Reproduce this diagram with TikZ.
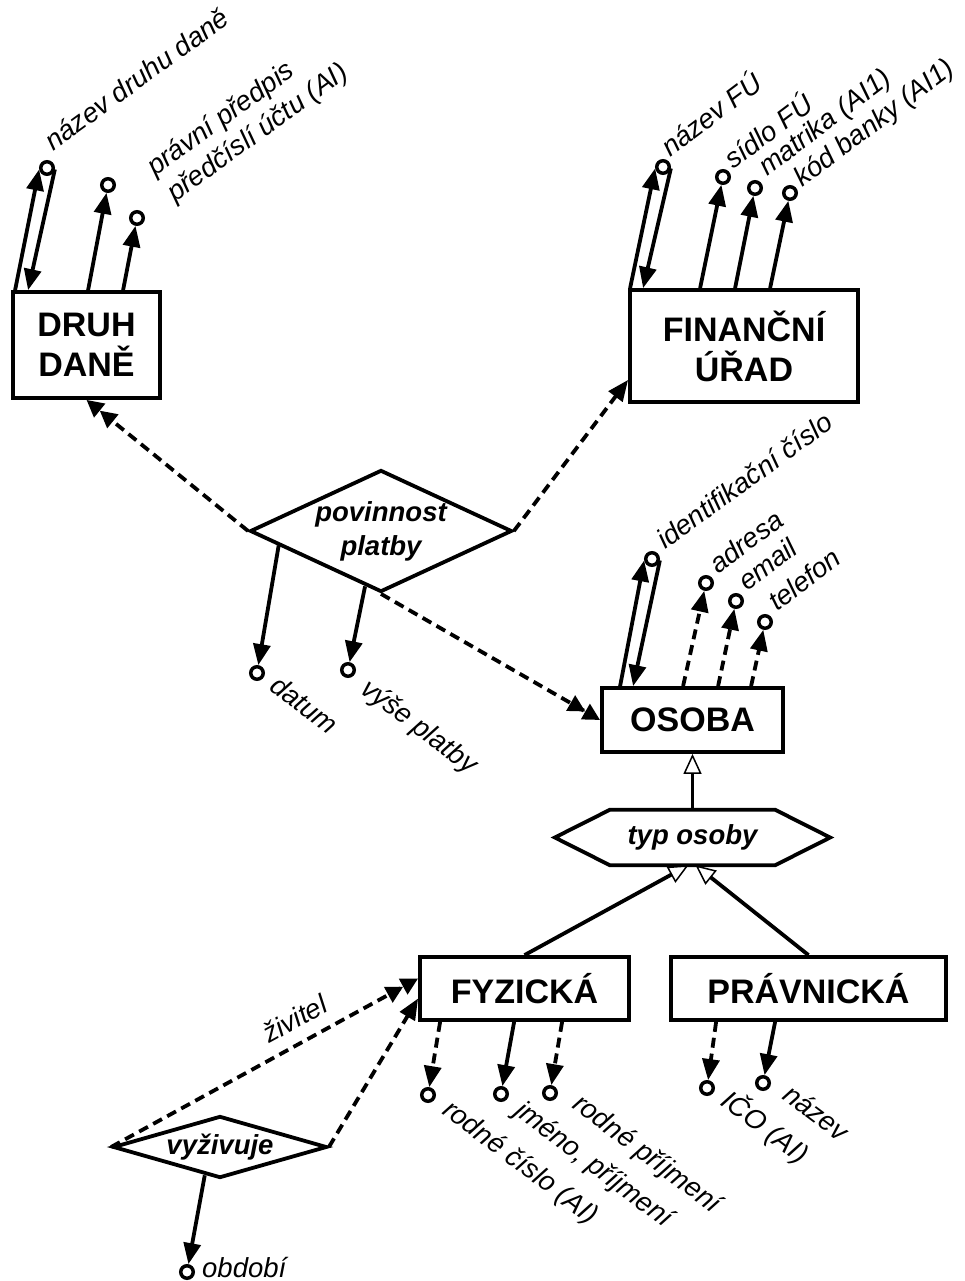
\documentclass[tikz,border=0pt]{standalone}
\usepackage{fontspec}
\setmainfont{Liberation Sans}
\usetikzlibrary{arrows.meta,shapes.geometric,calc}

\begin{document}
\begin{tikzpicture}[x=1pt,y=-1pt,
  ent/.style={draw, rectangle, line width=3.8pt, inner sep=0pt, align=center,
    fill=white, font=\fontsize{34}{40}\selectfont\bfseries},
  rel/.style={draw, diamond, line width=3.8pt, inner sep=0pt, align=center,
    fill=white, font=\fontsize{27.5}{34}\selectfont\bfseries\itshape},
  attc/.style={draw, circle, line width=3.5pt, minimum size=12.5pt, inner sep=0pt, fill=white},
  lbl/.style={inner sep=0pt, anchor=base west, font=\fontsize{27.5}{32}\selectfont\itshape},
  conn/.style={line width=3.8pt},
  dconn/.style={line width=3.8pt, dash pattern=on 10pt off 6pt},
  one/.style={-{Triangle[length=21pt,width=17pt]}},
  many/.style={-{Triangle[length=17pt,width=17pt]Triangle[length=17pt,width=17pt]}},
  isa/.style={-{Triangle[length=20pt,width=18pt,fill=white,line width=1.5pt]}},
]
\useasboundingbox (0,0) rectangle (965,1281);
\fill[white] (0,0) rectangle (965,1281);

% entities
\node[ent, minimum width=147pt, minimum height=106pt] (druh) at (86.5,345) {DRUH\\DANĚ};
\node[ent, minimum width=228pt, minimum height=112pt] (fin) at (744,346) {FINANČNÍ\\ÚŘAD};
\node[ent, minimum width=181pt, minimum height=64pt] (osoba) at (692.5,720) {OSOBA};
\node[ent, minimum width=209pt, minimum height=63pt] (fyz) at (524.5,988.5) {FYZICKÁ};
\node[ent, minimum width=275pt, minimum height=63pt] (prav) at (808.5,988.5) {PRÁVNICKÁ};

% relationships
\node[rel, aspect=2.15, minimum width=262pt, minimum height=122pt] (pov) at (381,531) {povinnost\\platby};
\node[rel, aspect=3.45, minimum width=214pt, minimum height=62pt] (vyz) at (220,1147) {vyživuje};

% generalisation hexagon
\node[inner sep=0pt, minimum width=165pt, minimum height=55pt] (typ) at (692.5,837.5) {};
\draw[line width=3.8pt, fill=white] (typ.north west) -- (typ.north east) -- ($(typ.east)+(55,0)$)
  -- (typ.south east) -- (typ.south west) -- ($(typ.west)+(-55,0)$) -- cycle;
\node[inner sep=0pt, font=\fontsize{27.5}{34}\selectfont\bfseries\itshape] (typtext) at (typ) {typ osoby};

% attribute circles
\node[attc] (a1) at (47,168) {};
\node[attc] (a2) at (108,185) {};
\node[attc] (a3) at (137,218) {};
\node[attc] (b1) at (663,167) {};
\node[attc] (b2) at (723,177) {};
\node[attc] (b3) at (755,188) {};
\node[attc] (b4) at (790,193) {};
\node[attc] (c1) at (652,559) {};
\node[attc] (c2) at (706,583) {};
\node[attc] (c3) at (736,601) {};
\node[attc] (c4) at (765,622) {};
\node[attc] (d1) at (257,673) {};
\node[attc] (d2) at (348,670) {};
\node[attc] (e1) at (428,1095) {};
\node[attc] (e2) at (501,1094) {};
\node[attc] (e3) at (550,1093) {};
\node[attc] (f1) at (707,1088) {};
\node[attc] (f2) at (763,1083) {};
\node[attc] (g1) at (187,1272) {};

% attributes of DRUH DANĚ
\draw[conn,one] ($(druh.north west)+(4,0)$) -- (a1.190);
\draw[conn,one] (a1.-10) -- ($(druh.north west)+(17,0)$);
\draw[conn,one] ($(druh.north west)+(77,0)$) -- (a2);
\draw[conn,one] ($(druh.north west)+(112,0)$) -- (a3);

% attributes of FINANČNÍ ÚŘAD
\draw[conn,one] ($(fin.north west)+(2,0)$) -- (b1.190);
\draw[conn,one] (b1.-10) -- ($(fin.north west)+(15,0)$);
\draw[conn,one] ($(fin.north west)+(72,0)$) -- (b2);
\draw[conn,one] ($(fin.north west)+(107,0)$) -- (b3);
\draw[conn,one] ($(fin.north west)+(142,0)$) -- (b4);

% attributes of OSOBA
\draw[conn,one] ($(osoba.north west)+(20,0)$) -- (c1.190);
\draw[conn,one] (c1.-10) -- ($(osoba.north west)+(33,0)$);
\draw[dconn,one] ($(osoba.north west)+(83,0)$) -- (c2);
\draw[dconn,one] ($(osoba.north west)+(118,0)$) -- (c3);
\draw[dconn,one] ($(osoba.north west)+(151,0)$) -- (c4);

% attributes of povinnost platby
\draw[conn,one] ($(pov.west)!0.23!(pov.south)$) -- (d1);
\draw[conn,one] ($(pov.west)!0.88!(pov.south)$) -- (d2);

% attributes of FYZICKÁ and PRÁVNICKÁ
\draw[dconn,one] ($(fyz.south west)+(22,0)$) -- (e1);
\draw[conn,one] ($(fyz.south west)+(96,0)$) -- (e2);
\draw[dconn,one] ($(fyz.south west)+(144,0)$) -- (e3);
\draw[dconn,one] ($(prav.south west)+(47,0)$) -- (f1);
\draw[conn,one] ($(prav.south west)+(106,0)$) -- (f2);

% attribute of vyživuje
\draw[conn,one] ($(vyz.west)!0.86!(vyz.south)$) -- (g1);

% relationship connectors
\draw[dconn,many] (pov.west) -- (druh.south);
\draw[dconn,one] (pov.east) -- ($(fin.south west)+(0,-24)$);
\draw[dconn,many] (pov.south) -- (osoba.west);
\draw[dconn,many] (vyz.west) -- node[pos=0.636, sloped, above=12pt, inner sep=0pt,
  font=\fontsize{27.5}{32}\selectfont\itshape] {živitel} ($(fyz.west)+(0,-10)$);
\draw[dconn,one] (vyz.east) -- ($(fyz.west)+(0,10)$);

% generalisation
\draw[conn,isa] (typ.north) -- (osoba.south);
\draw[conn,isa] (fyz.north) -- ($(typ.south)+(-4,0)$);
\draw[conn,isa] (prav.north) -- ($(typ.south)+(3,0)$);

% attribute labels
\node[lbl, rotate=36] at ($(a1)+(6,-16)$) {název druhu daně};
\node[lbl, rotate=36] at ($(a2)+(47,-8)$) {právní předpis};
\node[lbl, rotate=36] at ($(a3)+(38,-15)$) {předčíslí účtu (AI)};
\node[lbl, rotate=37] at ($(b1)+(7,-9)$) {název FÚ};
\node[lbl, rotate=37] at ($(b2)+(10,-7)$) {sídlo FÚ};
\node[lbl, rotate=37] at ($(b3)+(12,-11)$) {matrika (AI1)};
\node[lbl, rotate=37] at ($(b4)+(12,-5)$) {kód banky (AI1)};
\node[lbl, rotate=36] at ($(c1)+(13,-9)$) {identifikační číslo};
\node[lbl, rotate=37] at ($(c2)+(12,-8)$) {adresa};
\node[lbl, rotate=37] at ($(c3)+(11,-9)$) {email};
\node[lbl, rotate=37] at ($(c4)+(12,-10)$) {telefon};
\node[lbl, rotate=-37] at ($(d1)+(11,16)$) {datum};
\node[lbl, rotate=-37] at ($(d2)+(11,22)$) {výše platby};
\node[lbl, rotate=-37] at ($(e1)+(13,18)$) {rodné číslo (AI)};
\node[lbl, rotate=-37] at ($(e2)+(12,20)$) {jméno, příjmení};
\node[lbl, rotate=-37] at ($(e3)+(21,14)$) {rodné příjmení};
\node[lbl, rotate=-37] at ($(f1)+(12,16)$) {IČO (AI)};
\node[lbl, rotate=-37] at ($(f2)+(18,15)$) {název};
\node[lbl] at ($(g1)+(15,5)$) {období};
\end{tikzpicture}
\end{document}
